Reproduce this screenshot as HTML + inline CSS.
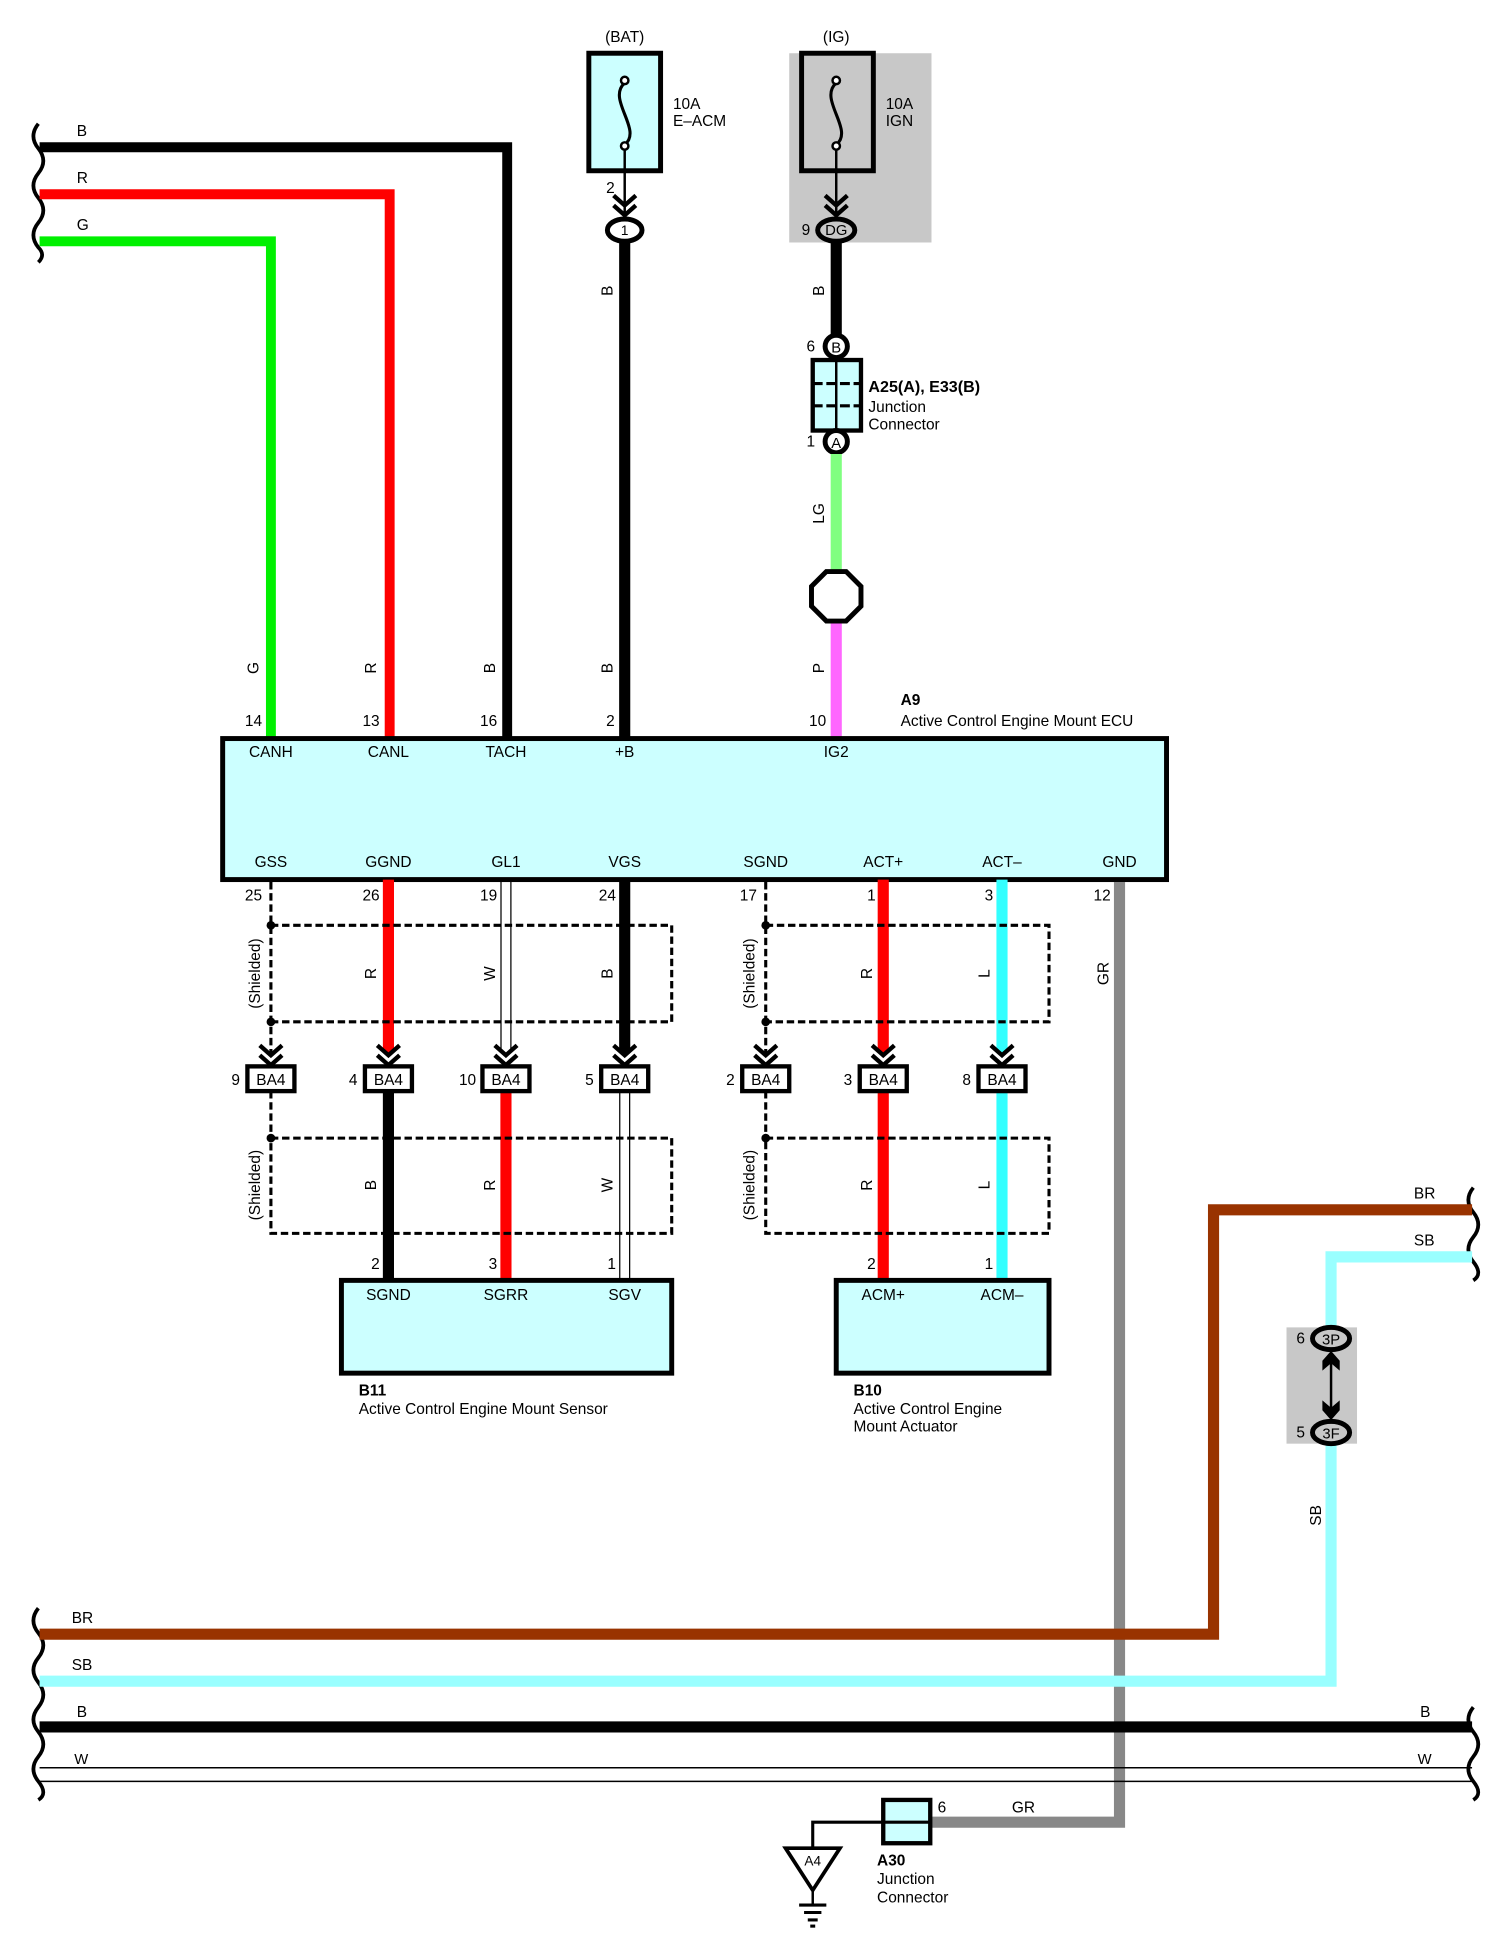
<!DOCTYPE html>
<html><head><meta charset="utf-8"><style>
html,body{margin:0;padding:0;background:#fff;}
svg{display:block;}
text{font-family:"Liberation Sans",sans-serif;font-size:12.5px;fill:#000;}
.c{text-anchor:middle;}
.b{font-weight:bold;}
</style></head><body>
<svg width="1503" height="1941" viewBox="0 0 1215 1569" xmlns="http://www.w3.org/2000/svg">
<defs>
<g id="chev"><path d="M-9,-12 L0,-4 L9,-12 M-9,-4 L0,4 L9,-4" fill="none" stroke="#000" stroke-width="3.5"/></g>
<g id="ba4"><rect x="-19" y="-10" width="38" height="20" fill="#fff" stroke="#000" stroke-width="3.5"/></g>
</defs>

<!-- left break squiggles -->
<path d="M31,100 q-8,10 0,20 q8,10 0,20 q-8,10 0,20 q8,10 0,20 q-8,10 0,20 q6,6 0,12" fill="none" stroke="#000" stroke-width="3"/>
<path d="M31,1300 q-8,10 0,20 q8,10 0,20 q-8,10 0,20 q8,10 0,20 q-8,10 0,20 q8,10 0,20 q-8,10 0,20 q8,10 0,15" fill="none" stroke="#000" stroke-width="3"/>
<path d="M1191,960 q-8,10 0,20 q8,10 0,20 q-8,10 0,20 q8,10 0,15" fill="none" stroke="#000" stroke-width="3"/>
<path d="M1191,1380 q-8,10 0,20 q8,10 0,20 q-8,10 0,20 q8,10 0,15" fill="none" stroke="#000" stroke-width="3"/>

<!-- top left wires -->
<path d="M32,119 H410 V597" fill="none" stroke="#000" stroke-width="8"/>
<path d="M32,157 H315 V597" fill="none" stroke="#f00" stroke-width="8"/>
<path d="M32,195 H219 V597" fill="none" stroke="#00f000" stroke-width="8"/>
<text x="62" y="110">B</text><text x="62" y="148">R</text><text x="62" y="186">G</text>

<!-- BAT fuse -->
<text class="c" x="505" y="34">(BAT)</text>
<rect x="476" y="43" width="58" height="95" fill="#ccffff" stroke="#000" stroke-width="4"/>
<path d="M505,67 C490,80 520,105 505,117" fill="none" stroke="#000" stroke-width="2.5"/>
<circle cx="505" cy="65" r="3" fill="#fff" stroke="#000" stroke-width="2"/>
<circle cx="505" cy="118" r="3" fill="#fff" stroke="#000" stroke-width="2"/>
<line x1="505" y1="121" x2="505" y2="172" stroke="#000" stroke-width="2"/>
<use href="#chev" x="505" y="170"/>
<text x="544" y="88">10A</text><text x="544" y="102">E–ACM</text>
<text x="490" y="156">2</text>
<line x1="505" y1="192" x2="505" y2="597" stroke="#000" stroke-width="9"/>
<ellipse cx="505" cy="186" rx="14" ry="9" fill="#fff" stroke="#000" stroke-width="4"/>
<text class="c" x="505" y="190" style="font-size:11px">1</text>
<text transform="translate(495,235) rotate(-90)" class="c">B</text>

<!-- IG fuse -->
<rect x="638" y="43" width="115" height="153" fill="#c8c8c8"/>
<text class="c" x="676" y="34">(IG)</text>
<rect x="648" y="43" width="58" height="95" fill="none" stroke="#000" stroke-width="4"/>
<path d="M676,67 C661,80 691,105 676,117" fill="none" stroke="#000" stroke-width="2.5"/>
<circle cx="676" cy="65" r="3" fill="#fff" stroke="#000" stroke-width="2"/>
<circle cx="676" cy="118" r="3" fill="#fff" stroke="#000" stroke-width="2"/>
<line x1="676" y1="121" x2="676" y2="172" stroke="#000" stroke-width="2"/>
<use href="#chev" x="676" y="170"/>
<text x="716" y="88">10A</text><text x="716" y="102">IGN</text>
<line x1="676" y1="192" x2="676" y2="272" stroke="#000" stroke-width="9"/>
<ellipse cx="676" cy="186" rx="15" ry="9" fill="#c8c8c8" stroke="#000" stroke-width="4"/>
<text class="c" x="676" y="190" style="font-size:12px">DG</text>
<text x="648" y="190">9</text>
<text transform="translate(666,235) rotate(-90)" class="c">B</text>
<circle cx="676" cy="280" r="9" fill="#fff" stroke="#000" stroke-width="4"/>
<text class="c" x="676" y="285" style="font-size:12px">B</text>
<text x="652" y="284">6</text>
<rect x="657" y="291" width="39" height="57" fill="#ccffff" stroke="#000" stroke-width="3.5"/>
<line x1="676" y1="291" x2="676" y2="348" stroke="#000" stroke-width="2"/>
<line x1="657" y1="310" x2="696" y2="310" stroke="#000" stroke-width="2.5" stroke-dasharray="8,3"/>
<line x1="657" y1="328" x2="696" y2="328" stroke="#000" stroke-width="2.5" stroke-dasharray="8,3"/>
<text x="702" y="317" class="b" style="font-size:13px">A25(A), E33(B)</text>
<text x="702" y="333">Junction</text><text x="702" y="347">Connector</text>
<circle cx="676" cy="357" r="9" fill="#fff" stroke="#000" stroke-width="4"/>
<text class="c" x="676" y="362" style="font-size:12px">A</text>
<text x="652" y="361">1</text>
<line x1="676" y1="367" x2="676" y2="462" stroke="#80ff80" stroke-width="9"/>
<text transform="translate(666,415) rotate(-90)" class="c">LG</text>
<polygon points="668,462 684,462 696,474 696,490 684,502 668,502 656,490 656,474" fill="#fff" stroke="#000" stroke-width="4"/>
<line x1="676" y1="504" x2="676" y2="597" stroke="#ff66ff" stroke-width="9"/>
<text transform="translate(666,540) rotate(-90)" class="c">P</text>

<!-- ECU -->
<rect x="180" y="597" width="763" height="114" fill="#ccffff" stroke="#000" stroke-width="4"/>
<text x="728" y="570" class="b">A9</text>
<text x="728" y="587">Active Control Engine Mount ECU</text>
<g>
<text transform="translate(209,540) rotate(-90)" class="c">G</text>
<text transform="translate(304,540) rotate(-90)" class="c">R</text>
<text transform="translate(400,540) rotate(-90)" class="c">B</text>
<text transform="translate(495,540) rotate(-90)" class="c">B</text>
</g>
<text x="198" y="587">14</text><text x="293" y="587">13</text><text x="388" y="587">16</text><text x="490" y="587">2</text><text x="654" y="587">10</text>
<text class="c" x="219" y="612">CANH</text><text class="c" x="314" y="612">CANL</text><text class="c" x="409" y="612">TACH</text><text class="c" x="505" y="612">+B</text><text class="c" x="676" y="612">IG2</text>
<text class="c" x="219" y="701">GSS</text><text class="c" x="314" y="701">GGND</text><text class="c" x="409" y="701">GL1</text><text class="c" x="505" y="701">VGS</text><text class="c" x="619" y="701">SGND</text><text class="c" x="714" y="701">ACT+</text><text class="c" x="810" y="701">ACT–</text><text class="c" x="905" y="701">GND</text>
<text x="198" y="728">25</text><text x="293" y="728">26</text><text x="388" y="728">19</text><text x="484" y="728">24</text><text x="598" y="728">17</text><text x="701" y="728">1</text><text x="796" y="728">3</text><text x="884" y="728">12</text>

<!-- GND gray wire -->
<path d="M905,713 V1473 H752" fill="none" stroke="#888" stroke-width="9"/>
<text transform="translate(896,787) rotate(-90)" class="c">GR</text>

<!-- BR, SB wires -->
<path d="M1190,978 H981 V1321 H32" fill="none" stroke="#993300" stroke-width="9"/>
<path d="M1190,1016 H1076 V1359 H32" fill="none" stroke="#99ffff" stroke-width="9"/>
<text x="1143" y="969">BR</text><text x="1143" y="1007">SB</text>
<text x="58" y="1312">BR</text><text x="58" y="1350">SB</text>
<text transform="translate(1068,1225) rotate(-90)" class="c">SB</text>
<rect x="1040" y="1073" width="57" height="94" fill="#c8c8c8"/>
<ellipse cx="1076" cy="1082" rx="15" ry="9" fill="#c8c8c8" stroke="#000" stroke-width="4"/>
<text class="c" x="1076" y="1087" style="font-size:12px">3P</text>
<ellipse cx="1076" cy="1158" rx="15" ry="9" fill="#c8c8c8" stroke="#000" stroke-width="4"/>
<text class="c" x="1076" y="1163" style="font-size:12px">3F</text>
<text x="1048" y="1086">6</text><text x="1048" y="1162">5</text>
<line x1="1076" y1="1095" x2="1076" y2="1146" stroke="#000" stroke-width="2"/>
<path d="M1069,1100 L1076,1092 L1083,1100 L1083,1108 L1076,1102 L1069,1108Z" fill="#000"/>
<path d="M1069,1140 L1076,1148 L1083,1140 L1083,1132 L1076,1138 L1069,1132Z" fill="#000"/>

<!-- B and W bus -->
<line x1="32" y1="1396" x2="1190" y2="1396" stroke="#000" stroke-width="9"/>
<text x="62" y="1388">B</text><text x="1148" y="1388">B</text>
<line x1="32" y1="1429" x2="1190" y2="1429" stroke="#000" stroke-width="1.2"/>
<line x1="32" y1="1440" x2="1190" y2="1440" stroke="#000" stroke-width="1.2"/>
<text x="60" y="1426" style="font-size:12px">W</text><text x="1146" y="1426" style="font-size:12px">W</text>

<!-- lower wires -->
<line x1="314" y1="711" x2="314" y2="851" stroke="#f00" stroke-width="9"/>
<line x1="405" y1="711" x2="405" y2="851" stroke="#000" stroke-width="1"/>
<line x1="413" y1="711" x2="413" y2="851" stroke="#000" stroke-width="1"/>
<line x1="505" y1="711" x2="505" y2="851" stroke="#000" stroke-width="9"/>
<line x1="714" y1="711" x2="714" y2="851" stroke="#f00" stroke-width="9"/>
<line x1="810" y1="711" x2="810" y2="851" stroke="#33ffff" stroke-width="9"/>
<line x1="314" y1="882" x2="314" y2="1035" stroke="#000" stroke-width="9"/>
<line x1="409" y1="882" x2="409" y2="1035" stroke="#f00" stroke-width="9"/>
<line x1="501" y1="882" x2="501" y2="1035" stroke="#000" stroke-width="1"/>
<line x1="509" y1="882" x2="509" y2="1035" stroke="#000" stroke-width="1"/>
<line x1="714" y1="882" x2="714" y2="1035" stroke="#f00" stroke-width="9"/>
<line x1="810" y1="882" x2="810" y2="1035" stroke="#33ffff" stroke-width="9"/>

<!-- shields -->
<g fill="none" stroke="#000" stroke-width="2.5" stroke-dasharray="6,3">
<line x1="219" y1="713" x2="219" y2="852"/>
<line x1="219" y1="882" x2="219" y2="920"/>
<path d="M219,748 H543 V826 H219"/>
<path d="M219,920 H543 V997 H219 V920"/>
<line x1="619" y1="713" x2="619" y2="852"/>
<line x1="619" y1="882" x2="619" y2="920"/>
<path d="M619,748 H848 V826 H619"/>
<path d="M619,920 H848 V997 H619 V920"/>
</g>
<g fill="#000">
<circle cx="219" cy="748" r="3.5"/><circle cx="219" cy="826" r="3.5"/><circle cx="219" cy="920" r="3.5"/>
<circle cx="619" cy="748" r="3.5"/><circle cx="619" cy="826" r="3.5"/><circle cx="619" cy="920" r="3.5"/>
</g>

<!-- chevrons and BA4 -->
<use href="#chev" x="219" y="857"/><use href="#chev" x="314" y="857"/><use href="#chev" x="409" y="857"/><use href="#chev" x="505" y="857"/>
<use href="#chev" x="619" y="857"/><use href="#chev" x="714" y="857"/><use href="#chev" x="810" y="857"/>
<use href="#ba4" x="219" y="872"/><use href="#ba4" x="314" y="872"/><use href="#ba4" x="409" y="872"/><use href="#ba4" x="505" y="872"/>
<use href="#ba4" x="619" y="872"/><use href="#ba4" x="714" y="872"/><use href="#ba4" x="810" y="872"/>
<g style="font-size:12.5px">
<text class="c" x="219" y="877">BA4</text><text class="c" x="314" y="877">BA4</text><text class="c" x="409" y="877">BA4</text><text class="c" x="505" y="877">BA4</text>
<text class="c" x="619" y="877">BA4</text><text class="c" x="714" y="877">BA4</text><text class="c" x="810" y="877">BA4</text>
</g>
<text x="187" y="877">9</text><text x="282" y="877">4</text><text x="371" y="877">10</text><text x="473" y="877">5</text><text x="587" y="877">2</text><text x="682" y="877">3</text><text x="778" y="877">8</text>

<!-- wire labels in shields -->
<g style="font-size:12px">
<text transform="translate(210,787) rotate(-90)" class="c">(Shielded)</text>
<text transform="translate(304,787) rotate(-90)" class="c">R</text>
<text transform="translate(400,787) rotate(-90)" class="c">W</text>
<text transform="translate(495,787) rotate(-90)" class="c">B</text>
<text transform="translate(610,787) rotate(-90)" class="c">(Shielded)</text>
<text transform="translate(705,787) rotate(-90)" class="c">R</text>
<text transform="translate(800,787) rotate(-90)" class="c">L</text>
<text transform="translate(210,958) rotate(-90)" class="c">(Shielded)</text>
<text transform="translate(304,958) rotate(-90)" class="c">B</text>
<text transform="translate(400,958) rotate(-90)" class="c">R</text>
<text transform="translate(495,958) rotate(-90)" class="c">W</text>
<text transform="translate(610,958) rotate(-90)" class="c">(Shielded)</text>
<text transform="translate(705,958) rotate(-90)" class="c">R</text>
<text transform="translate(800,958) rotate(-90)" class="c">L</text>
</g>

<!-- B11 -->
<rect x="276" y="1035" width="267" height="75" fill="#ccffff" stroke="#000" stroke-width="4"/>
<text class="c" x="314" y="1051">SGND</text><text class="c" x="409" y="1051">SGRR</text><text class="c" x="505" y="1051">SGV</text>
<text x="300" y="1026">2</text><text x="395" y="1026">3</text><text x="491" y="1026">1</text>
<text x="290" y="1128" class="b">B11</text>
<text x="290" y="1143">Active Control Engine Mount Sensor</text>
<!-- B10 -->
<rect x="676" y="1035" width="172" height="75" fill="#ccffff" stroke="#000" stroke-width="4"/>
<text class="c" x="714" y="1051">ACM+</text><text class="c" x="810" y="1051">ACM–</text>
<text x="701" y="1026">2</text><text x="796" y="1026">1</text>
<text x="690" y="1128" class="b">B10</text>
<text x="690" y="1143">Active Control Engine</text>
<text x="690" y="1157">Mount Actuator</text>

<!-- A30 / ground -->
<rect x="714" y="1455" width="38" height="35" fill="#ccffff" stroke="#000" stroke-width="3.5"/>
<line x1="714" y1="1473" x2="752" y2="1473" stroke="#000" stroke-width="2.5"/>
<text x="758" y="1465">6</text><text x="818" y="1465">GR</text>
<path d="M714,1473 H657 V1493" fill="none" stroke="#000" stroke-width="2.5"/>
<polygon points="635,1494 679,1494 657,1528" fill="#fff" stroke="#000" stroke-width="3"/>
<text class="c" x="657" y="1508" style="font-size:11px">A4</text>
<line x1="657" y1="1528" x2="657" y2="1540" stroke="#000" stroke-width="2"/>
<line x1="646" y1="1540" x2="668" y2="1540" stroke="#000" stroke-width="2.5"/>
<line x1="650" y1="1546" x2="664" y2="1546" stroke="#000" stroke-width="2.5"/>
<line x1="653" y1="1552" x2="661" y2="1552" stroke="#000" stroke-width="2.5"/>
<line x1="655" y1="1557" x2="659" y2="1557" stroke="#000" stroke-width="2.5"/>
<text x="709" y="1508" class="b">A30</text>
<text x="709" y="1523">Junction</text><text x="709" y="1538">Connector</text>
</svg>
</body></html>
